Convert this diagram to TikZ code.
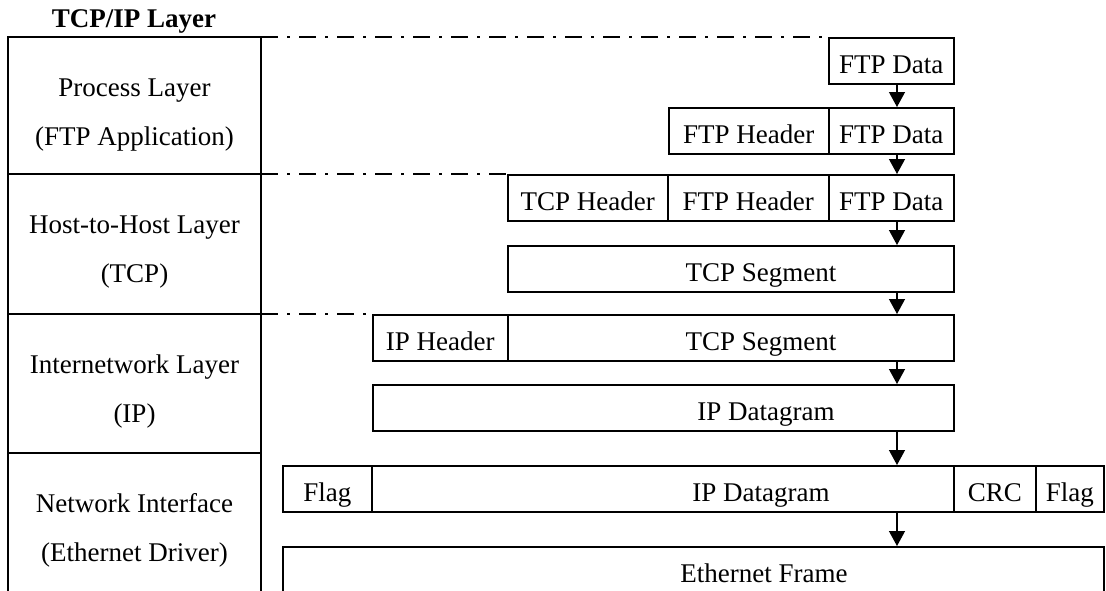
\documentclass[tikz,border=0pt]{standalone}
\usepackage{fontspec}
\setmainfont{Liberation Serif}
\usetikzlibrary{arrows.meta}

\begin{document}
\begin{tikzpicture}[x=1pt,y=-1pt,
  every node/.style={font=\fontsize{27pt}{32pt}\selectfont},
  cell/.style={draw, line width=1.6pt, inner sep=0pt, anchor=north west,
    minimum height=46pt, text height=25pt, text depth=0pt},
  celltext/.style={inner sep=0pt, text height=25pt, text depth=0pt},
  rule/.style={line width=1.6pt},
  dashdot/.style={line width=1.6pt, dash pattern=on 17pt off 9pt on 3pt off 9pt},
  flow/.style={line width=1.3pt, -{Triangle[length=15pt,width=16pt]}},
  layertext/.style={anchor=base}]
\useasboundingbox (0,0) rectangle (1106,590);
\clip (0,0) rectangle (1106,590);

% heading
\node[font=\fontsize{27pt}{32pt}\selectfont\bfseries, anchor=base] (title) at (134,27) {TCP/IP Layer};

% layer column
\draw[rule] (8,37) rectangle (261,620);
\draw[rule] (8,174) -- (261,174);
\draw[rule] (8,314) -- (261,314);
\draw[rule] (8,453) -- (261,453);
\coordinate (c1) at (261,37);
\coordinate (c2) at (261,174);
\coordinate (c3) at (261,314);

\node[layertext] (l1a) at (134.5,96)  {Process Layer};
\node[layertext] (l1b) at (134.5,145) {(FTP Application)};
\node[layertext] (l2a) at (134.5,233) {Host-to-Host Layer};
\node[layertext] (l2b) at (134.5,282) {(TCP)};
\node[layertext] (l3a) at (134.5,373) {Internetwork Layer};
\node[layertext] (l3b) at (134.5,422) {(IP)};
\node[layertext] (l4a) at (134.5,512) {Network Interface};
\node[layertext] (l4b) at (134.5,561) {(Ethernet Driver)};

% process layer
\node[cell, minimum width=125pt] (r1a) at (828,37) {FTP Data};
\node[cell, minimum width=160pt] (r1bh) at (668,107) {FTP Header};
\node[cell, minimum width=125pt] (r1bd) at (828,107) {FTP Data};

% host-to-host layer
\node[cell, minimum width=160pt] (r2at) at (507,174) {TCP Header};
\node[cell, minimum width=161pt] (r2ah) at (667,174) {FTP Header};
\node[cell, minimum width=125pt] (r2ad) at (828,174) {FTP Data};
\node[cell, minimum width=446pt] (r2b) at (507,245) {};

% internetwork layer
\node[cell, minimum width=135pt] (r3ah) at (372,314) {IP Header};
\node[cell, minimum width=446pt] (r3as) at (507,314) {};
\node[cell, minimum width=581pt] (r3b) at (372,384) {};

% network interface
\node[cell, minimum width=89pt]  (r4af) at (282,465) {Flag};
\node[cell, minimum width=582pt] (r4ad) at (371,465) {};
\node[cell, minimum width=82pt]  (r4ac) at (953,465) {CRC};
\node[cell, minimum width=68pt]  (r4ag) at (1035,465) {Flag};
\node[cell, minimum width=821pt] (r4b) at (282,546) {};

% labels of the long fields, set right of the field centres
\node[celltext] (t2b)  at (r2b.center  -| 761,0) {TCP Segment};
\node[celltext] (t3as) at (r3as.center -| 761,0) {TCP Segment};
\node[celltext] (t3b)  at (r3b.center  -| 766,0) {IP Datagram};
\node[celltext] (t4ad) at (r4ad.center -| 761,0) {IP Datagram};
\node[celltext] (t4b)  at (r4b.center  -| 764,0) {Ethernet Frame};

% layer boundaries continued to the packets
\draw[dashdot] (c1) -- (r1a.north west);
\draw[dashdot] (c2) -- (r2at.north west);
\draw[dashdot] (c3) -- (r3ah.north west);

% encapsulation flow
\coordinate (ax) at (897,0);
\draw[flow] (r1a.south -| ax)  -- (r1bd.north -| ax);
\draw[flow] (r1bd.south -| ax) -- (r2ad.north -| ax);
\draw[flow] (r2ad.south -| ax) -- (r2b.north -| ax);
\draw[flow] (r2b.south -| ax)  -- (r3as.north -| ax);
\draw[flow] (r3as.south -| ax) -- (r3b.north -| ax);
\draw[flow] (r3b.south -| ax)  -- (r4ad.north -| ax);
\draw[flow] (r4ad.south -| ax) -- (r4b.north -| ax);
\end{tikzpicture}
\end{document}
